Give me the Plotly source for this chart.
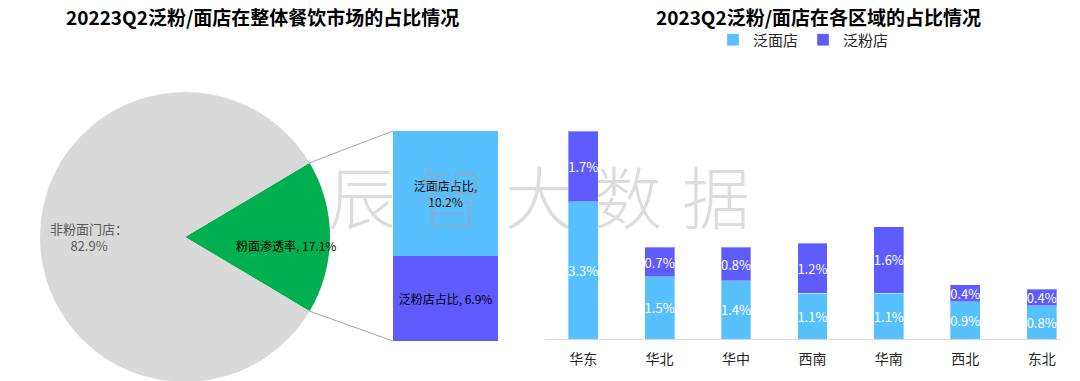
import math
import plotly.graph_objects as go

W, H = 1080, 381
OFF = 8  # page body margin offset in the browser
FONT = "Noto Sans CJK SC"

# ---- data ----
pie_labels = ["粉面渗透率", "非粉面门店"]
pie_values = [17.1, 82.9]

split_labels = ["泛粉店占比", "泛面店占比"]
split_values = [6.9, 10.2]

regions = ["华东", "华北", "华中", "西南", "华南", "西北", "东北"]
mian_vals = [3.3, 1.5, 1.4, 1.1, 1.1, 0.9, 0.8]
fen_vals = [1.7, 0.7, 0.8, 1.2, 1.6, 0.4, 0.4]
series_names = ["泛面店", "泛粉店"]

C_GRAY = "#D9D9D9"
C_GREEN = "#00B050"
C_BLUE = "#57C0FF"
C_PURPLE = "#5E5CFF"


def fx(x):
    return (x - OFF) / W


def fy(y):
    return 1 - (y - OFF) / H


fig = go.Figure()

# ---- pie ----
pie_x0, pie_x1 = fx(40), fx(330)
pie_y0, pie_y1 = fy(382), fy(92)
green_frac = pie_values[0] / sum(pie_values)
rot = 90 - green_frac * 360 / 2
fig.add_trace(go.Pie(
    labels=pie_labels, values=pie_values, sort=False, direction="clockwise",
    rotation=rot, marker=dict(colors=[C_GREEN, C_GRAY]),
    textinfo="none", hoverinfo="none", showlegend=False,
    domain=dict(x=[pie_x0, pie_x1], y=[pie_y0, pie_y1]),
))

cx_px = (40 + 330) / 2
cy_px = (92 + 382) / 2
r_px = min(330 - 40, 382 - 92) / 2

fig.add_annotation(x=fx(89), y=fy(237), xref="paper", yref="paper",
                   xanchor="center", yanchor="middle",
                   text=f"{pie_labels[1]}：<br>{pie_values[1]}%", showarrow=False,
                   font=dict(family=FONT, size=13, color="#595959"), align="center")
fig.add_annotation(x=fx(286), y=fy(245), xref="paper", yref="paper",
                   xanchor="center", yanchor="middle",
                   text=f"{pie_labels[0]}, {pie_values[0]}%", showarrow=False,
                   font=dict(family=FONT, size=12, color="#000000"))

# ---- middle split bar ----
bx0, bx1 = fx(393), fx(498)
by0, by1 = fy(341), fy(131)
fig.add_trace(go.Bar(x=[0], y=[split_values[0]], width=1, marker=dict(color=C_PURPLE, line=dict(width=0)),
                     text=[f"{split_labels[0]}, {split_values[0]}%"], textposition="inside",
                     insidetextanchor="middle", textangle=0,
                     textfont=dict(family=FONT, size=12, color="#000000"),
                     xaxis="x2", yaxis="y2", showlegend=False, hoverinfo="none"))
fig.add_trace(go.Bar(x=[0], y=[split_values[1]], width=1, marker=dict(color=C_BLUE, line=dict(width=0)),
                     text=[f"{split_labels[1]},<br>{split_values[1]}%"], textposition="inside",
                     insidetextanchor="middle", textangle=0,
                     textfont=dict(family=FONT, size=12, color="#000000"),
                     xaxis="x2", yaxis="y2", showlegend=False, hoverinfo="none"))

# connector lines from pie wedge edge to bar corners
half = math.radians(green_frac * 360 / 2)
px_ = cx_px + r_px * math.cos(half)
py_up = cy_px - r_px * math.sin(half)
py_dn = cy_px + r_px * math.sin(half)
for (ya, yb) in [(py_up, 131), (py_dn, 341)]:
    fig.add_shape(type="line", xref="paper", yref="paper",
                  x0=fx(px_), y0=fy(ya), x1=bx0, y1=fy(yb),
                  line=dict(color="#A6A6A6", width=1))

# ---- right stacked bars ----
colors = [C_BLUE, C_PURPLE]
for name, vals, col in zip(series_names, [mian_vals, fen_vals], colors):
    fig.add_trace(go.Bar(
        x=regions, y=vals, name=name, width=0.39,
        marker=dict(color=col, line=dict(width=1, color="rgba(255,255,255,0.35)")),
        text=[f"{v}%" for v in vals], textposition="inside", insidetextanchor="middle",
        textangle=0, constraintext="none",
        textfont=dict(family=FONT, size=13, color="#FFFFFF"),
        xaxis="x3", yaxis="y3", hoverinfo="none",
    ))

# watermark
for i, ch in enumerate("辰智大数据"):
    fig.add_annotation(x=fx(362 + i * 88.5), y=fy(194), xref="paper", yref="paper",
                       xanchor="center", yanchor="middle",
                       text=ch, showarrow=False,
                       font=dict(family=FONT, size=68, color="rgba(160,160,160,0.37)", weight=300))

# titles
fig.add_annotation(x=fx(262), y=fy(17), xref="paper", yref="paper",
                   xanchor="center", yanchor="middle",
                   text="<b>20223Q2泛粉/面店在整体餐饮市场的占比情况</b>", showarrow=False,
                   font=dict(family=FONT, size=19, color="#000000"))
fig.add_annotation(x=fx(818), y=fy(16), xref="paper", yref="paper",
                   xanchor="center", yanchor="middle",
                   text="<b>2023Q2泛粉/面店在各区域的占比情况</b>", showarrow=False,
                   font=dict(family=FONT, size=19, color="#000000"))

fig.update_layout(
    width=W, height=H, margin=dict(l=0, r=0, t=0, b=0),
    paper_bgcolor="white", plot_bgcolor="rgba(0,0,0,0)",
    barmode="stack",
    showlegend=True,
    legend=dict(orientation="h", x=fx(713), y=fy(40), xanchor="left", yanchor="middle",
                traceorder="normal",
                font=dict(family=FONT, size=15, color="#262626"), itemwidth=30,
                bgcolor="rgba(0,0,0,0)"),
    xaxis2=dict(domain=[bx0, bx1], range=[-0.5, 0.5], visible=False, fixedrange=True),
    yaxis2=dict(domain=[by0, by1], range=[0, sum(split_values)], visible=False, anchor="x2"),
    xaxis3=dict(domain=[fx(545), fx(1060)], range=[-0.5, 6.24], anchor="y3",
                showline=True, linecolor="#D9D9D9", linewidth=1, ticks="",
                ticklabelstandoff=7,
                tickfont=dict(family=FONT, size=14, color="#262626"), showgrid=False),
    yaxis3=dict(domain=[fy(339), fy(131)], range=[0, 5.0], visible=False, anchor="x3"),
    xaxis=dict(visible=False), yaxis=dict(visible=False),
)

fig.write_html("out.html")
